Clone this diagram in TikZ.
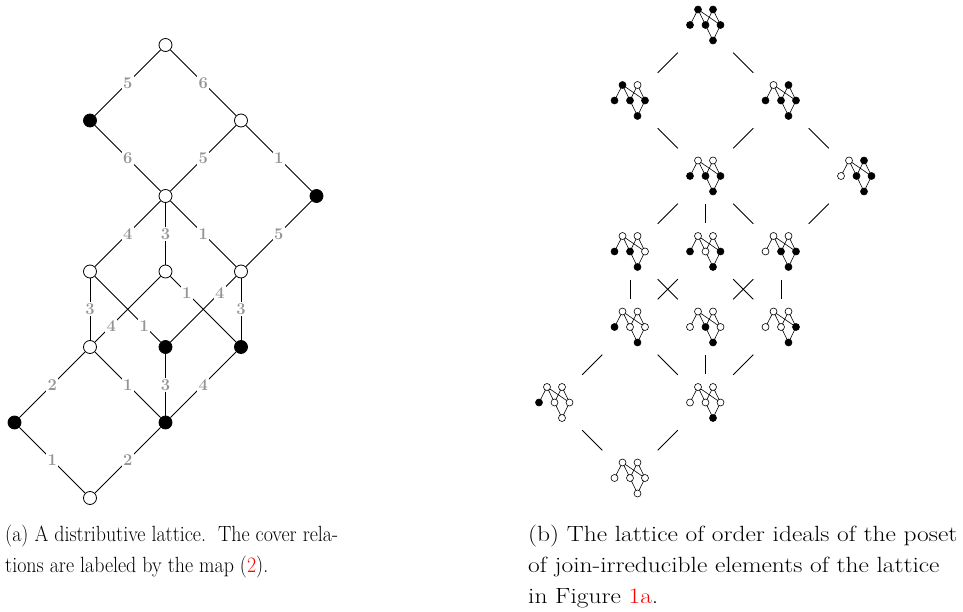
\documentclass[tikz,border=0pt]{standalone}
\usepackage{xcolor}
\usepackage{graphicx}
\tikzset{
  lat/.style={circle,draw,line width=0.8pt,minimum size=13pt,inner sep=0pt},
  latw/.style={lat,fill=white},
  latb/.style={lat,fill=black},
  edge/.style={line width=0.8pt},
  lab/.style={fill=white,inner sep=1.4pt,text=black!42,font=\fontsize{16.5}{17}\selectfont\bfseries},
  ibox/.style={rectangle,minimum width=55pt,minimum height=56pt,inner sep=0pt},
  bedge/.style={line width=0.8pt},
  medge/.style={line width=0.6pt},
  mdot/.style={line width=0.6pt,draw=black},
  captext/.style={anchor=base west,inner sep=0pt,font=\fontsize{22}{31}\selectfont}
}
\newcommand\mposet[7]{%
  \begin{scope}[shift={(#1)}]
    \draw[medge] (-7.5,-15.5) -- (-15.5,0) (-7.5,-15.5) -- (0,0) (-7.5,-15.5) -- (15,0)
      (7.5,-15.5) -- (0,0) (7.5,-15.5) -- (15,0) (0,0) -- (7.5,15.5) (15,0) -- (7.5,15.5);
    \filldraw[mdot,fill=#2] (-7.5,-15.5) circle[radius=3.5pt];
    \filldraw[mdot,fill=#3] (7.5,-15.5) circle[radius=3.5pt];
    \filldraw[mdot,fill=#4] (-15.5,0) circle[radius=3.5pt];
    \filldraw[mdot,fill=#5] (0,0) circle[radius=3.5pt];
    \filldraw[mdot,fill=#6] (15,0) circle[radius=3.5pt];
    \filldraw[mdot,fill=#7] (7.5,15.5) circle[radius=3.5pt];
  \end{scope}}
\newcommand\capa[1]{\scalebox{0.907}[1]{#1}}
\newcommand\capb[1]{\scalebox{1.156}[1]{#1}}
\begin{document}
\begin{tikzpicture}[x=1pt,y=-1pt]
\useasboundingbox (0,0) rectangle (963,612);
% ---------- (a) ----------
\node[latw] (a0) at (165.5,45) {};
\node[latb] (a1) at (90,120.5) {};
\node[latw] (a2) at (241,120.5) {};
\node[latw] (a3) at (165.5,196) {};
\node[latb] (a4) at (316.5,196) {};
\node[latw] (a5) at (90,271.5) {};
\node[latw] (a6) at (165.5,271.5) {};
\node[latw] (a7) at (241,271.5) {};
\node[latw] (a8) at (90,347) {};
\node[latb] (a9) at (165.5,347) {};
\node[latb] (a10) at (241,347) {};
\node[latb] (a11) at (14.5,422.5) {};
\node[latb] (a12) at (165.5,422.5) {};
\node[latw] (a13) at (90,498) {};
\draw[edge] (a0) -- node[lab]{5} (a1);
\draw[edge] (a0) -- node[lab]{6} (a2);
\draw[edge] (a1) -- node[lab]{6} (a3);
\draw[edge] (a2) -- node[lab]{5} (a3);
\draw[edge] (a2) -- node[lab]{1} (a4);
\draw[edge] (a3) -- node[lab]{4} (a5);
\draw[edge] (a3) -- node[lab]{3} (a6);
\draw[edge] (a3) -- node[lab]{1} (a7);
\draw[edge] (a4) -- node[lab]{5} (a7);
\draw[edge] (a5) -- node[lab]{3} (a8);
\draw[edge] (a5) -- node[lab,pos=0.75]{1} (a9);
\draw[edge] (a6) -- node[lab,pos=0.75]{4} (a8);
\draw[edge] (a6) -- node[lab,pos=0.25]{1} (a10);
\draw[edge] (a7) -- node[lab,pos=0.25]{4} (a9);
\draw[edge] (a7) -- node[lab]{3} (a10);
\draw[edge] (a8) -- node[lab]{2} (a11);
\draw[edge] (a8) -- node[lab]{1} (a12);
\draw[edge] (a9) -- node[lab]{3} (a12);
\draw[edge] (a10) -- node[lab]{4} (a12);
\draw[edge] (a11) -- node[lab]{1} (a13);
\draw[edge] (a12) -- node[lab]{2} (a13);
% ---------- (b) ----------
\node[ibox] (b0) at (705.5,25) {};
\node[ibox] (b1) at (630,100.5) {};
\node[ibox] (b2) at (781,100.5) {};
\node[ibox] (b3) at (705.5,176) {};
\node[ibox] (b4) at (856.5,176) {};
\node[ibox] (b5) at (630,251.5) {};
\node[ibox] (b6) at (705.5,251.5) {};
\node[ibox] (b7) at (781,251.5) {};
\node[ibox] (b8) at (630,327) {};
\node[ibox] (b9) at (705.5,327) {};
\node[ibox] (b10) at (781,327) {};
\node[ibox] (b11) at (554.5,402.5) {};
\node[ibox] (b12) at (705.5,402.5) {};
\node[ibox] (b13) at (630,478) {};
\foreach \u/\v in {b0/b1,b0/b2,b1/b3,b2/b3,b2/b4,b3/b5,b3/b6,b3/b7,b4/b7,b5/b8,b5/b9,b6/b8,b6/b10,b7/b9,b7/b10,b8/b11,b8/b12,b9/b12,b10/b12,b11/b13,b12/b13}
  \draw[bedge] (\u) -- (\v);
\mposet{b0}{black}{black}{black}{black}{black}{black}
\mposet{b1}{black}{white}{black}{black}{black}{black}
\mposet{b2}{white}{black}{black}{black}{black}{black}
\mposet{b3}{white}{white}{black}{black}{black}{black}
\mposet{b4}{white}{black}{white}{black}{black}{black}
\mposet{b5}{white}{white}{black}{black}{white}{black}
\mposet{b6}{white}{white}{black}{white}{black}{black}
\mposet{b7}{white}{white}{white}{black}{black}{black}
\mposet{b8}{white}{white}{black}{white}{white}{black}
\mposet{b9}{white}{white}{white}{black}{white}{black}
\mposet{b10}{white}{white}{white}{white}{black}{black}
\mposet{b11}{white}{white}{black}{white}{white}{white}
\mposet{b12}{white}{white}{white}{white}{white}{black}
\mposet{b13}{white}{white}{white}{white}{white}{white}
% ---------- captions ----------
\node[captext] (ca1) at (5,541) {\capa{(a) A distributive lattice.\ \ The cover rela-}};
\node[captext] (ca2) at (5,572) {\capa{tions are labeled by the map (\textcolor{red}{2}).}};
\node[captext] (cb1) at (528,541) {\capb{(b) The lattice of order ideals of the poset}};
\node[captext] (cb2) at (528,572) {\capb{of join-irreducible elements of the lattice}};
\node[captext] (cb3) at (528,603) {\capb{in Figure \textcolor{red}{1a}.}};
\end{tikzpicture}
\end{document}
